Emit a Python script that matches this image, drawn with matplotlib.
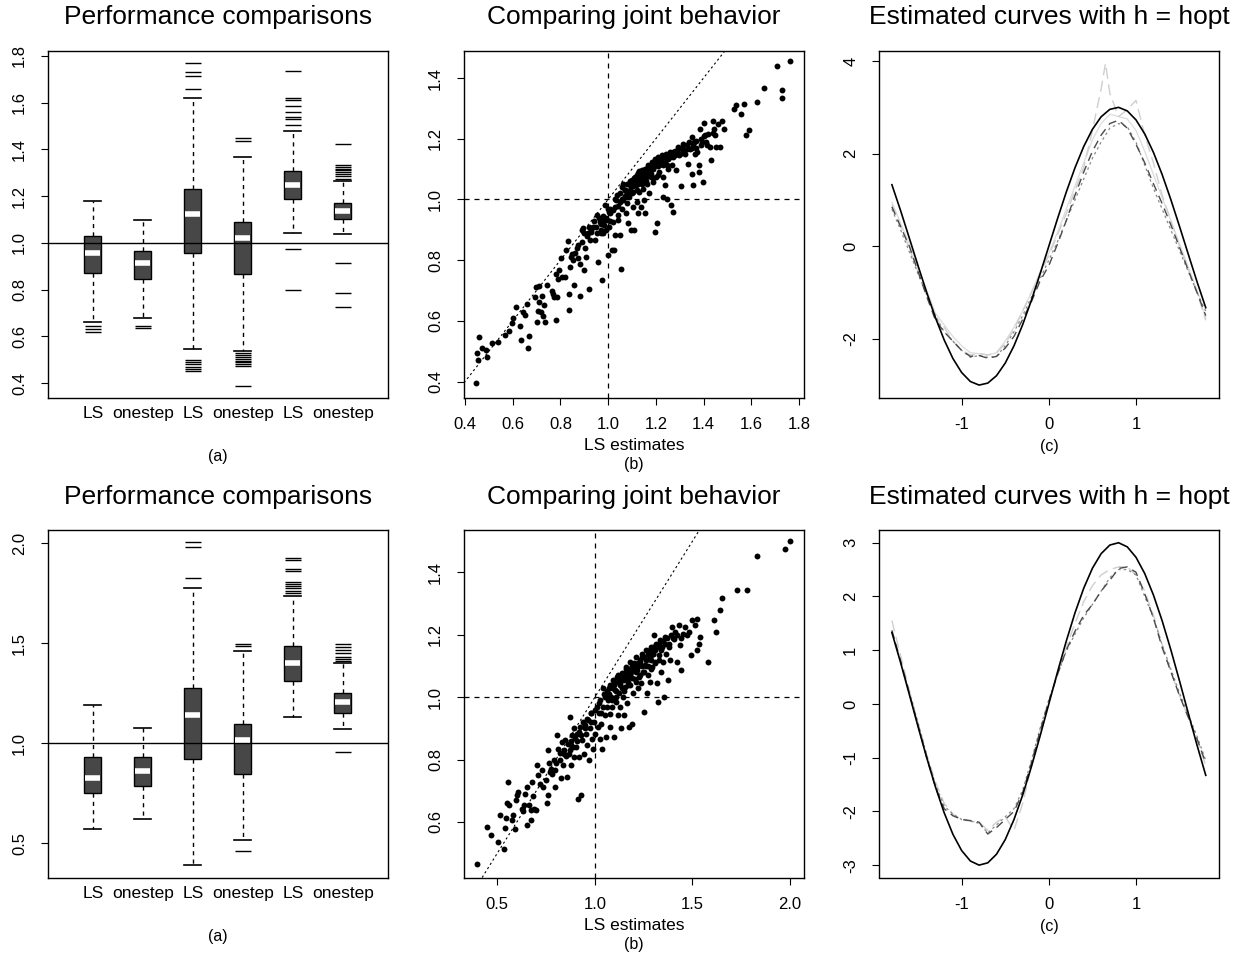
import numpy as np
import matplotlib
matplotlib.use("Agg")
import matplotlib.pyplot as plt

plt.rcParams['font.family'] = ['Liberation Sans', 'DejaVu Sans']
plt.rcParams['axes.unicode_minus'] = False

# ==================== DATA ====================
box_labels = ["LS", "onestep", "LS", "onestep", "LS", "onestep"]

# top row boxplots
top_med = [0.955, 0.912, 1.122, 1.019, 1.248, 1.136]
top_q1 = [0.870, 0.844, 0.955, 0.867, 1.188, 1.102]
top_q3 = [1.028, 0.966, 1.232, 1.090, 1.307, 1.169]
top_lo = [0.661, 0.680, 0.546, 0.538, 1.041, 1.038]
top_hi = [1.179, 1.098, 1.621, 1.366, 1.479, 1.265]
top_fliers = [
    [0.645, 0.632, 0.618],
    [0.646, 0.636],
    [1.771, 1.733, 1.713, 1.657, 0.500, 0.490, 0.482, 0.470, 0.458, 0.452],
    [1.450, 1.437, 0.528, 0.518, 0.510, 0.502, 0.495, 0.488, 0.480, 0.472, 0.387],
    [1.737, 1.619, 1.610, 1.587, 1.560, 1.538, 1.530, 1.505, 0.972, 0.800],
    [1.424, 1.333, 1.325, 1.318, 1.310, 1.302, 1.295, 1.285, 1.275, 0.914, 0.784, 0.724],
]

# bottom row boxplots
bot_med = [0.828, 0.863, 1.142, 1.017, 1.400, 1.205]
bot_q1 = [0.750, 0.787, 0.920, 0.845, 1.310, 1.153]
bot_q3 = [0.930, 0.933, 1.278, 1.095, 1.487, 1.253]
bot_lo = [0.572, 0.622, 0.392, 0.515, 1.130, 1.073]
bot_hi = [1.192, 1.075, 1.778, 1.463, 1.738, 1.402]
bot_fliers = [
    [],
    [],
    [2.007, 1.980, 1.828],
    [1.497, 1.488, 0.462],
    [1.928, 1.917, 1.870, 1.863, 1.808, 1.797, 1.787, 1.775, 1.763, 1.750],
    [1.495, 1.483, 1.467, 1.453, 1.433, 1.423, 1.412, 0.955],
]

# top scatter: LS estimates vs onestep estimates
top_ls = [0.446, 0.449, 0.453, 0.459, 0.470, 0.490, 0.494, 0.512, 0.540, 0.568,
          0.586, 0.596, 0.603, 0.614, 0.631, 0.635, 0.645, 0.652, 0.659, 0.666,
          0.670, 0.695, 0.698, 0.702, 0.705, 0.709, 0.712, 0.719, 0.724, 0.728,
          0.731, 0.734, 0.742, 0.763, 0.770, 0.775, 0.780, 0.780, 0.784, 0.791,
          0.795, 0.801, 0.805, 0.819, 0.823, 0.833, 0.835, 0.836, 0.840, 0.844,
          0.851, 0.855, 0.862, 0.875, 0.875, 0.882, 0.884, 0.892, 0.896, 0.899,
          0.904, 0.908, 0.914, 0.919, 0.924, 0.930, 0.938, 0.943, 0.952, 0.955,
          0.959, 0.966, 0.969, 0.973, 0.977, 0.980, 0.984, 0.987, 0.994, 0.999,
          1.002, 1.005, 1.008, 1.015, 1.019, 1.025, 1.029, 1.033, 1.036, 1.043,
          1.050, 1.052, 1.057, 1.061, 1.063, 1.070, 1.075, 1.081, 1.085, 1.089,
          1.092, 1.095, 1.099, 1.103, 1.106, 1.109, 1.113, 1.117, 1.120, 1.124,
          1.127, 1.131, 1.134, 1.137, 1.141, 1.145, 1.148, 1.151, 1.155, 1.159,
          1.162, 1.165, 1.169, 1.173, 1.176, 1.179, 1.183, 1.187, 1.189, 1.196,
          1.196, 1.200, 1.203, 1.206, 1.210, 1.214, 1.220, 1.224, 1.228, 1.231,
          1.236, 1.238, 1.243, 1.245, 1.248, 1.252, 1.259, 1.263, 1.266, 1.270,
          1.273, 1.280, 1.284, 1.294, 1.298, 1.304, 1.308, 1.315, 1.322, 1.329,
          1.336, 1.340, 1.343, 1.350, 1.350, 1.354, 1.357, 1.364, 1.368, 1.374,
          1.380, 1.382, 1.385, 1.388, 1.393, 1.397, 1.402, 1.406, 1.413, 1.420,
          1.427, 1.432, 1.438, 1.443, 1.448, 1.452, 1.462, 1.469, 1.476, 1.487,
          1.529, 1.536, 1.557, 1.570, 1.578, 1.592, 1.623, 1.655, 1.706, 1.727,
          1.729, 1.762,
          1.105, 1.115, 1.125, 1.135, 1.140, 1.150, 1.160, 1.170, 1.180, 1.190,
          1.200, 1.210, 1.220, 1.230, 1.240, 1.250, 1.260, 1.090, 1.080, 1.070,
          1.060, 1.050, 1.040, 1.030, 1.020, 1.010, 0.990, 0.970, 0.950, 0.930,
          0.910, 0.890, 0.870, 0.850, 1.100, 1.120, 1.130, 1.155, 1.175, 1.195,
          1.060, 1.080, 1.090, 1.110, 1.120, 1.140, 1.150, 1.160, 1.170, 1.180,
          1.190, 1.210, 1.220, 1.230, 1.240, 1.260, 1.270, 1.280, 1.290, 1.300,
          1.310, 1.320, 1.330, 1.350, 1.360, 1.370, 1.390, 1.400, 1.410, 1.440,
          1.100, 1.120, 1.140, 1.160, 1.190, 1.210, 1.250, 1.030, 1.050, 1.070,
          1.000, 0.980, 0.960, 0.940, 0.920, 0.900, 0.970, 0.990, 1.010, 1.040]
top_os = [0.394, 0.493, 0.471, 0.548, 0.510, 0.504, 0.482, 0.526, 0.532, 0.554,
          0.567, 0.592, 0.608, 0.647, 0.583, 0.537, 0.629, 0.619, 0.654, 0.510,
          0.550, 0.678, 0.712, 0.596, 0.633, 0.663, 0.714, 0.629, 0.683, 0.616,
          0.652, 0.597, 0.717, 0.700, 0.690, 0.678, 0.756, 0.604, 0.679, 0.739,
          0.767, 0.806, 0.745, 0.745, 0.833, 0.863, 0.688, 0.636, 0.778, 0.811,
          0.800, 0.718, 0.824, 0.850, 0.806, 0.789, 0.682, 0.899, 0.905, 0.767,
          0.839, 0.811, 0.888, 0.705, 0.866, 0.894, 0.910, 0.866, 0.888, 0.949,
          0.795, 0.927, 0.899, 0.735, 0.944, 0.888, 0.916, 0.981, 0.932, 0.818,
          0.959, 0.910, 0.970, 0.834, 0.927, 0.834, 0.882, 0.998, 1.014, 0.932,
          0.882, 0.770, 0.970, 1.052, 0.998, 1.030, 0.954, 0.987, 0.921, 1.009,
          1.047, 0.899, 1.063, 0.976, 1.025, 0.899, 1.074, 1.047, 0.992, 0.954,
          1.087, 1.025, 1.058, 0.976, 1.096, 1.069, 1.036, 0.998, 0.954, 1.101,
          1.079, 1.052, 1.112, 1.020, 1.090, 1.074, 1.123, 1.058, 1.101, 1.134,
          0.893, 1.074, 1.112, 0.921, 1.139, 1.090, 1.117, 1.145, 1.074, 1.009,
          1.128, 1.047, 1.150, 1.112, 1.003, 1.134, 1.156, 0.981, 1.112, 0.959,
          1.139, 1.161, 1.096, 1.172, 1.145, 1.044, 1.167, 1.183, 1.150, 1.167,
          1.117, 1.188, 1.167, 1.206, 1.085, 1.047, 1.183, 1.150, 1.194, 1.156,
          1.112, 1.090, 1.233, 1.178, 1.188, 1.058, 1.252, 1.211, 1.178, 1.217,
          1.172, 1.131, 1.257, 1.233, 1.211, 1.172, 1.249, 1.172, 1.260, 1.233,
          1.299, 1.310, 1.280, 1.313, 1.211, 1.228, 1.321, 1.368, 1.438, 1.362,
          1.335, 1.455,
          1.045, 1.060, 1.050, 1.075, 1.085, 1.070, 1.090, 1.095, 1.100, 1.105,
          1.115, 1.125, 1.120, 1.135, 1.140, 1.145, 1.150, 1.030, 1.020, 1.010,
          1.000, 0.990, 0.980, 0.975, 0.965, 0.955, 0.940, 0.920, 0.910, 0.900,
          0.880, 0.860, 0.840, 0.820, 1.060, 1.080, 1.095, 1.100, 1.110, 1.125,
          1.040, 1.050, 1.060, 1.070, 1.065, 1.080, 1.090, 1.075, 1.100, 1.085,
          1.110, 1.110, 1.130, 1.115, 1.125, 1.140, 1.155, 1.145, 1.160, 1.150,
          1.170, 1.160, 1.180, 1.170, 1.190, 1.170, 1.200, 1.210, 1.190, 1.220,
          1.020, 1.030, 1.050, 1.060, 1.070, 1.080, 1.100, 1.000, 1.020, 1.030,
          0.970, 0.930, 0.940, 0.930, 0.910, 0.890, 0.890, 0.900, 0.930, 0.950]

# bottom scatter
bot_ls = [0.394, 0.445, 0.466, 0.503, 0.514, 0.534, 0.537, 0.543, 0.548, 0.556,
          0.560, 0.577, 0.582, 0.589, 0.594, 0.599, 0.606, 0.624, 0.633, 0.636,
          0.643, 0.650, 0.653, 0.662, 0.670, 0.674, 0.679, 0.684, 0.687, 0.696,
          0.705, 0.710, 0.718, 0.730, 0.735, 0.747, 0.756, 0.759, 0.761, 0.764,
          0.769, 0.776, 0.781, 0.790, 0.795, 0.798, 0.807, 0.810, 0.819, 0.824,
          0.832, 0.837, 0.844, 0.849, 0.858, 0.865, 0.870, 0.875, 0.880, 0.885,
          0.892, 0.895, 0.902, 0.909, 0.912, 0.918, 0.926, 0.930, 0.935, 0.943,
          0.947, 0.953, 0.960, 0.965, 0.972, 0.977, 0.982, 0.987, 0.991, 0.994,
          1.003, 1.011, 1.015, 1.020, 1.025, 1.028, 1.033, 1.037, 1.042, 1.049,
          1.054, 1.059, 1.066, 1.071, 1.076, 1.080, 1.085, 1.088, 1.093, 1.100,
          1.105, 1.110, 1.114, 1.117, 1.122, 1.127, 1.131, 1.134, 1.139, 1.143,
          1.148, 1.151, 1.156, 1.161, 1.165, 1.170, 1.173, 1.178, 1.182, 1.187,
          1.190, 1.195, 1.199, 1.204, 1.209, 1.216, 1.221, 1.224, 1.233, 1.238,
          1.241, 1.247, 1.253, 1.258, 1.264, 1.267, 1.272, 1.277, 1.284, 1.287,
          1.293, 1.298, 1.301, 1.310, 1.315, 1.318, 1.322, 1.327, 1.332, 1.339,
          1.344, 1.349, 1.352, 1.361, 1.366, 1.373, 1.378, 1.386, 1.395, 1.403,
          1.412, 1.420, 1.429, 1.437, 1.441, 1.451, 1.463, 1.472, 1.485, 1.492,
          1.497, 1.514, 1.523, 1.526, 1.533, 1.540, 1.582, 1.611, 1.622, 1.642,
          1.650, 1.727, 1.782, 1.830, 1.974, 2.000,
          1.050, 1.070, 1.090, 1.100, 1.120, 1.130, 1.150, 1.160, 1.180, 1.190,
          1.200, 1.220, 1.230, 1.250, 1.260, 1.270, 1.280, 1.300, 1.310, 1.330,
          1.350, 1.370, 1.390, 1.400, 1.020, 1.000, 0.980, 0.960, 0.940, 0.920,
          0.900, 0.880, 0.860, 0.840, 0.820, 0.800, 1.110, 1.140, 1.170, 1.210,
          1.240, 1.290, 1.060, 1.030,
          1.100, 1.120, 1.140, 1.160, 1.180, 1.200, 1.220, 1.240, 1.260, 1.280,
          1.300, 1.320, 1.340, 1.360, 1.380, 1.420, 1.440, 1.080, 1.060, 1.040,
          1.090, 1.110, 1.130, 1.150, 1.170, 1.190, 1.210, 1.230, 1.250, 1.270,
          1.290, 1.310, 1.330, 0.980, 0.950, 0.930, 0.910, 0.890, 0.870, 0.850]
bot_os = [0.466, 0.584, 0.557, 0.536, 0.621, 0.514, 0.582, 0.613, 0.661, 0.728,
          0.654, 0.606, 0.621, 0.579, 0.670, 0.686, 0.696, 0.643, 0.634, 0.653,
          0.690, 0.713, 0.589, 0.653, 0.637, 0.607, 0.728, 0.682, 0.643, 0.637,
          0.782, 0.750, 0.723, 0.766, 0.713, 0.735, 0.662, 0.686, 0.830, 0.788,
          0.760, 0.771, 0.755, 0.798, 0.768, 0.712, 0.878, 0.835, 0.798, 0.741,
          0.856, 0.782, 0.819, 0.862, 0.744, 0.819, 0.937, 0.846, 0.782, 0.878,
          0.808, 0.900, 0.840, 0.883, 0.675, 0.808, 0.906, 0.687, 0.862, 0.819,
          0.911, 0.883, 0.846, 0.926, 0.798, 0.900, 0.948, 0.865, 0.835, 0.920,
          0.883, 0.969, 0.906, 0.948, 0.867, 0.990, 0.915, 0.835, 0.969, 1.010,
          0.942, 0.873, 0.990, 1.028, 0.947, 0.905, 1.001, 0.969, 1.055, 0.873,
          1.023, 0.985, 1.065, 0.942, 1.012, 1.044, 0.969, 0.900, 1.076, 1.001,
          1.055, 0.942, 1.033, 1.097, 0.980, 1.065, 0.905, 1.113, 1.039, 1.081,
          0.915, 1.012, 1.103, 1.057, 1.129, 1.087, 1.028, 1.065, 1.113, 1.044,
          1.140, 1.081, 0.952, 1.103, 1.151, 1.012, 1.070, 1.124, 1.049, 1.162,
          1.097, 1.140, 1.199, 1.113, 1.172, 1.044, 0.985, 1.135, 1.183, 1.081,
          1.162, 1.113, 1.001, 1.194, 1.140, 1.055, 1.172, 1.119, 1.226, 1.185,
          1.210, 1.113, 1.233, 1.166, 1.087, 1.204, 1.226, 1.199, 1.210, 1.135,
          1.247, 1.231, 1.252, 1.151, 1.172, 1.194, 1.113, 1.249, 1.210, 1.279,
          1.317, 1.343, 1.343, 1.452, 1.474, 1.500,
          1.000, 1.010, 1.030, 1.040, 1.050, 1.060, 1.070, 1.080, 1.090, 1.100,
          1.090, 1.110, 1.120, 1.130, 1.120, 1.140, 1.150, 1.160, 1.150, 1.170,
          1.180, 1.190, 1.200, 1.190, 0.980, 0.960, 0.950, 0.930, 0.920, 0.890,
          0.870, 0.860, 0.850, 0.830, 0.820, 0.790, 1.000, 1.030, 1.050, 1.080,
          1.100, 1.120, 0.970, 0.950,
          1.050, 1.070, 1.060, 1.090, 1.070, 1.110, 1.100, 1.130, 1.100, 1.130,
          1.140, 1.160, 1.150, 1.170, 1.160, 1.200, 1.190, 1.040, 1.020, 1.030,
          0.990, 1.020, 1.040, 1.020, 1.040, 1.060, 1.050, 1.070, 1.080, 1.100,
          1.090, 1.110, 1.120, 0.920, 0.900, 0.880, 0.860, 0.840, 0.830, 0.810]

# curve panels
curve_x = [-1.8, -1.7, -1.6, -1.5, -1.4, -1.3, -1.2, -1.1, -1.0, -0.9, -0.8, -0.7,
           -0.6, -0.5, -0.4, -0.3, -0.2, -0.1, 0.0, 0.1, 0.2, 0.3, 0.4, 0.5,
           0.6, 0.7, 0.8, 0.9, 1.0, 1.1, 1.2, 1.3, 1.4, 1.5, 1.6, 1.7, 1.8]
true_curve = [1.328, 0.767, 0.175, -0.423, -1.005, -1.547, -2.026, -2.426, -2.728,
              -2.922, -2.999, -2.956, -2.796, -2.524, -2.152, -1.694, -1.168, -0.596,
              0.0, 0.596, 1.168, 1.694, 2.152, 2.524, 2.796, 2.956, 2.999, 2.922,
              2.728, 2.426, 2.026, 1.547, 1.005, 0.423, -0.175, -0.767, -1.328]

top_est_dark = [0.85, 0.42, 0.00, -0.55, -1.09, -1.60, -1.85, -2.05, -2.25, -2.38,
                -2.36, -2.42, -2.38, -2.20, -1.95, -1.58, -1.20, -0.75, -0.42, 0.05,
                0.55, 1.10, 1.60, 2.05, 2.40, 2.65, 2.72, 2.55, 2.20, 1.80, 1.35,
                0.92, 0.46, -0.03, -0.52, -1.00, -1.50]
top_est_mid = [0.80, 0.35, -0.12, -0.60, -1.05, -1.50, -1.85, -2.05, -2.25, -2.40,
               -2.36, -2.40, -2.38, -2.15, -1.85, -1.50, -1.10, -0.70, -0.30, 0.10,
               0.55, 1.00, 1.45, 1.90, 2.25, 2.55, 2.65, 2.58, 2.25, 1.75, 1.25,
               0.80, 0.35, -0.10, -0.55, -1.00, -1.40]
top_light_x = [-1.8, -1.7, -1.6, -1.5, -1.4, -1.3, -1.2, -1.1, -1.0, -0.9, -0.8, -0.7,
               -0.6, -0.5, -0.4, -0.3, -0.2, -0.1, 0.0, 0.1, 0.2, 0.3, 0.4, 0.5,
               0.6, 0.65, 0.7, 0.8, 0.9, 1.0, 1.1, 1.2, 1.3, 1.4, 1.5, 1.6, 1.7, 1.8]
top_est_light = [0.90, 0.45, -0.05, -0.55, -1.00, -1.55, -1.75, -2.05, -2.25, -2.35,
                 -2.32, -2.35, -2.30, -2.10, -1.80, -1.40, -1.00, -0.60, -0.20, 0.25,
                 0.70, 1.20, 1.70, 2.50, 3.40, 3.95, 3.30, 2.80, 2.95, 3.15, 2.40,
                 1.80, 1.10, 0.55, 0.00, -0.50, -1.00, -1.60]
top_est_faint = [0.95, 0.50, 0.05, -0.45, -0.95, -1.45, -1.70, -1.95, -2.15, -2.30,
                 -2.32, -2.35, -2.30, -2.05, -1.75, -1.40, -1.00, -0.55, -0.15, 0.30,
                 0.80, 1.30, 1.80, 2.30, 2.65, 2.85, 2.80, 2.75, 2.50, 2.05, 1.55,
                 1.05, 0.55, 0.05, -0.45, -0.95, -1.55]

bot_est_dark = [1.37, 0.80, 0.20, -0.40, -1.00, -1.55, -1.95, -2.08, -2.15, -2.17,
                -2.20, -2.42, -2.30, -2.15, -2.00, -1.65, -1.10, -0.50, 0.05, 0.55,
                1.00, 1.35, 1.65, 1.85, 2.10, 2.30, 2.52, 2.55, 2.45, 2.05, 1.60,
                1.05, 0.60, 0.15, -0.25, -0.65, -1.10]
bot_est_mid = [1.35, 0.78, 0.22, -0.35, -0.95, -1.50, -1.90, -2.05, -2.15, -2.18,
               -2.22, -2.40, -2.25, -2.10, -1.95, -1.60, -1.05, -0.45, 0.08, 0.55,
               0.98, 1.30, 1.60, 1.85, 2.10, 2.35, 2.50, 2.50, 2.40, 2.00, 1.60,
               1.10, 0.65, 0.20, -0.20, -0.60, -1.05]
bot_est_light = [1.55, 0.90, 0.25, -0.35, -0.95, -1.45, -1.85, -2.05, -2.15, -2.18,
                 -2.20, -2.35, -2.20, -2.10, -2.35, -1.85, -1.15, -0.50, 0.05, 0.55,
                 1.05, 1.50, 1.90, 2.20, 2.40, 2.50, 2.55, 2.55, 2.40, 2.10, 1.65,
                 1.10, 0.60, 0.15, -0.25, -0.65, -1.15]

# ==================== FIGURE ====================
W, H = 1238, 965
fig = plt.figure(figsize=(W / 100, H / 100), dpi=100)


def px_axes(x0, y0, x1, y1):
    return fig.add_axes([x0 / W, 1 - y1 / H, (x1 - x0) / W, (y1 - y0) / H])


def fig_text(x, y, s, size):
    fig.text(x / W, 1 - y / H, s, ha='center', va='center', fontsize=size)


def r_style(ax):
    for sp in ax.spines.values():
        sp.set_linewidth(1.0)
    ax.tick_params(direction='out', length=5, width=0.8, labelsize=12, pad=9)
    ax.tick_params(axis='y', pad=10)
    for lab in ax.get_yticklabels():
        lab.set_rotation(90)
        lab.set_va('center')


def draw_box(ax, med, q1, q3, lo, hi, fliers, ylim, yticks):
    stats = []
    for i in range(len(med)):
        stats.append(dict(med=med[i], q1=q1[i], q3=q3[i], whislo=lo[i],
                          whishi=hi[i], fliers=fliers[i]))
    pos = np.arange(1, len(med) + 1)
    bp = ax.bxp(stats, positions=pos, widths=0.34, patch_artist=True,
                capwidths=0.34, manage_ticks=False,
                boxprops=dict(facecolor='#474747', edgecolor='black', linewidth=1),
                medianprops=dict(color='white', linewidth=4, solid_capstyle='butt'),
                whiskerprops=dict(color='black', linestyle=(0, (3, 3)), linewidth=1),
                capprops=dict(color='black', linewidth=1.2),
                flierprops=dict(marker='_', markersize=12, markeredgecolor='black',
                                markeredgewidth=1, linestyle='none'))
    for m in bp['medians']:
        xd = m.get_xdata()
        c = (xd[0] + xd[1]) / 2
        m.set_xdata([c - 0.15, c + 0.15])
    ax.axhline(1.0, color='black', lw=1)
    ax.set_xlim(0.1, 6.9)
    ax.set_ylim(*ylim)
    ax.set_yticks(yticks)
    ax.set_xticks(pos)
    ax.set_xticklabels(box_labels)
    r_style(ax)
    ax.tick_params(axis='x', length=0, pad=6, labelsize=12.5)


def draw_scatter(ax, xs, ys, xlim, ylim, xticks, yticks):
    ax.scatter(xs, ys, s=18, c='black', linewidths=0, zorder=3)
    ax.axvline(1.0, color='black', lw=0.9, ls=(0, (4, 4)))
    ax.axhline(1.0, color='black', lw=0.9, ls=(0, (4, 4)))
    ax.axline((0, 0), (1, 1), color='black', lw=0.8, ls=(0, (2, 2.5)))
    ax.set_xlim(*xlim)
    ax.set_ylim(*ylim)
    ax.set_xticks(xticks)
    ax.set_yticks(yticks)
    r_style(ax)


def draw_curves(ax, light_x, dark, mid, light, faint, ylim, yticks):
    if faint is not None:
        ax.plot(curve_x, faint, color='#dcdcdc', lw=0.9)
    ax.plot(light_x, light, color='#cfcfcf', lw=1.0, ls=(0, (8, 4)))
    ax.plot(curve_x, mid, color='#8a8a8a', lw=0.9, ls=(0, (2, 2.5)))
    ax.plot(curve_x, dark, color='#4a4a4a', lw=1.0, ls=(0, (6, 4)))
    ax.plot(curve_x, true_curve, color='black', lw=1.2)
    ax.set_xlim(-1.948, 1.952)
    ax.set_ylim(*ylim)
    ax.set_xticks([-1, 0, 1])
    ax.set_yticks(yticks)
    r_style(ax)


# top row
ax_a1 = px_axes(48, 51, 388, 398)
ax_b1 = px_axes(464, 51, 804, 398)
ax_c1 = px_axes(879, 51, 1219, 398)
# bottom row
ax_a2 = px_axes(48, 530, 388, 877.5)
ax_b2 = px_axes(464, 530, 804, 877.5)
ax_c2 = px_axes(879, 530, 1219, 877.5)

draw_box(ax_a1, top_med, top_q1, top_q3, top_lo, top_hi, top_fliers,
         (0.336, 1.821), [0.4, 0.6, 0.8, 1.0, 1.2, 1.4, 1.6, 1.8])
draw_box(ax_a2, bot_med, bot_q1, bot_q3, bot_lo, bot_hi, bot_fliers,
         (0.328, 2.067), [0.5, 1.0, 1.5, 2.0])

draw_scatter(ax_b1, top_ls, top_os, (0.396, 1.821), (0.346, 1.489),
             [0.4, 0.6, 0.8, 1.0, 1.2, 1.4, 1.6, 1.8], [0.4, 0.6, 0.8, 1.0, 1.2, 1.4])
draw_scatter(ax_b2, bot_ls, bot_os, (0.329, 2.072), (0.422, 1.536),
             [0.5, 1.0, 1.5, 2.0], [0.6, 0.8, 1.0, 1.2, 1.4])

draw_curves(ax_c1, top_light_x, top_est_dark, top_est_mid, top_est_light, top_est_faint,
            (-3.278, 4.216), [-2, 0, 2, 4])
draw_curves(ax_c2, curve_x, bot_est_dark, bot_est_mid, bot_est_light, None,
            (-3.229, 3.236), [-3, -2, -1, 0, 1, 2, 3])

# titles and captions
for row_off in (0, 480):
    fig_text(218, 17 + row_off, "Performance comparisons", 19)
    fig_text(634, 17 + row_off, "Comparing joint behavior", 19)
    fig_text(1049, 17 + row_off, "Estimated curves with h = hopt", 19)
    fig_text(218, 457 + row_off, "(a)", 11.5)
    fig_text(634, 445 + row_off, "LS estimates", 12.5)
    fig_text(634, 464 + row_off, "(b)", 11.5)
    fig_text(1049, 447 + row_off, "(c)", 11.5)

fig.savefig("out.png", dpi=100)
